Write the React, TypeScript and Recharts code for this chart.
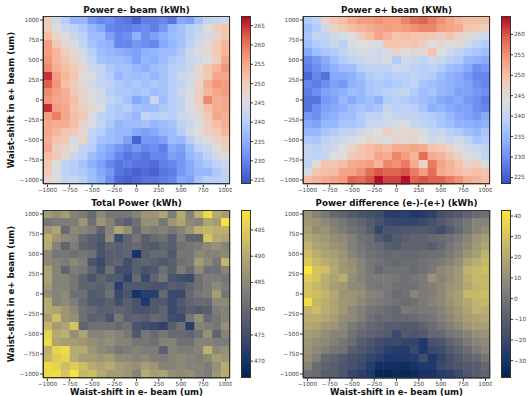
import React from 'react';
import { ScatterChart, Scatter, XAxis, YAxis, BarChart, Bar } from 'recharts';

// waist shifts (um) of the scan grid
const xShifts = [-1000, -900, -800, -700, -600, -500, -400, -300, -200, -100, 0, 100, 200, 300, 400, 500, 600, 700, 800, 900, 1000];
const yShifts = [1000, 900, 800, 700, 600, 500, 400, 300, 200, 100, 0, -100, -200, -300, -400, -500, -600, -700, -800, -900, -1000];
const axisTicks = [-1000, -750, -500, -250, 0, 250, 500, 750, 1000];

// rows go from y = +1000 (top) down to y = -1000
const powerEMinus = [
  [250, 244, 240, 236, 236, 232, 230, 231, 229, 228, 226, 229, 229, 230, 228, 234, 233, 238, 242, 243, 244],
  [249, 246, 243, 241, 239, 236, 234, 230, 229, 229, 230, 231, 229, 232, 236, 238, 240, 242, 246, 249, 251],
  [252, 248, 246, 243, 241, 237, 237, 233, 230, 231, 235, 231, 233, 235, 237, 238, 240, 243, 244, 248, 251],
  [256, 250, 247, 245, 242, 238, 236, 235, 230, 230, 232, 231, 230, 234, 236, 238, 241, 244, 247, 250, 253],
  [256, 253, 249, 247, 244, 240, 237, 236, 235, 234, 233, 235, 236, 237, 237, 239, 243, 245, 247, 250, 253],
  [257, 253, 251, 248, 245, 242, 238, 237, 237, 236, 233, 236, 235, 237, 239, 240, 243, 244, 246, 249, 255],
  [258, 254, 252, 250, 247, 243, 242, 239, 238, 238, 236, 235, 237, 238, 240, 241, 243, 247, 251, 253, 257],
  [265, 256, 253, 251, 246, 245, 242, 240, 236, 238, 237, 238, 236, 238, 240, 243, 244, 247, 250, 255, 255],
  [262, 257, 252, 250, 247, 244, 242, 241, 239, 238, 239, 238, 239, 238, 240, 242, 244, 248, 254, 257, 256],
  [258, 256, 254, 250, 248, 245, 244, 240, 239, 239, 238, 239, 237, 238, 240, 243, 245, 249, 253, 255, 256],
  [257, 255, 254, 252, 248, 246, 244, 242, 240, 238, 234, 236, 243, 237, 240, 242, 245, 249, 258, 254, 255],
  [265, 256, 255, 251, 249, 247, 246, 240, 239, 240, 238, 237, 237, 239, 240, 242, 245, 248, 252, 254, 255],
  [256, 259, 255, 252, 250, 245, 241, 240, 239, 238, 236, 242, 240, 241, 240, 243, 244, 247, 250, 255, 254],
  [255, 254, 254, 252, 248, 245, 242, 239, 236, 237, 237, 238, 236, 237, 238, 241, 243, 245, 249, 252, 254],
  [255, 253, 251, 250, 247, 242, 240, 237, 236, 236, 234, 233, 234, 236, 237, 240, 244, 246, 249, 250, 253],
  [254, 251, 250, 245, 248, 241, 238, 237, 236, 233, 226, 232, 232, 233, 237, 236, 240, 244, 245, 248, 250],
  [255, 249, 248, 246, 242, 240, 236, 234, 232, 230, 232, 230, 231, 229, 234, 233, 237, 241, 243, 246, 249],
  [252, 250, 247, 243, 241, 237, 235, 233, 230, 228, 229, 228, 230, 230, 233, 232, 236, 238, 241, 244, 246],
  [251, 246, 241, 240, 238, 235, 233, 230, 228, 229, 228, 228, 227, 229, 230, 232, 234, 237, 239, 241, 243],
  [250, 245, 241, 240, 239, 237, 234, 232, 228, 227, 226, 227, 226, 228, 229, 232, 234, 236, 236, 239, 242],
  [248, 246, 242, 243, 240, 237, 235, 231, 227, 226, 227, 228, 228, 229, 230, 234, 233, 238, 240, 240, 241],
];

const powerEPlus = [
  [238, 240, 246, 249, 250, 252, 254, 254, 255, 254, 254, 256, 258, 259, 257, 255, 253, 251, 250, 250, 250],
  [236, 238, 242, 246, 248, 250, 251, 252, 253, 254, 253, 254, 255, 256, 256, 254, 253, 252, 249, 248, 247],
  [237, 241, 240, 242, 243, 244, 247, 250, 253, 251, 249, 250, 249, 249, 248, 247, 249, 246, 245, 243, 242],
  [236, 238, 239, 241, 239, 243, 244, 244, 243, 249, 249, 248, 249, 247, 244, 245, 244, 245, 242, 240, 238],
  [233, 236, 237, 238, 240, 242, 243, 243, 242, 243, 246, 244, 245, 245, 249, 244, 242, 240, 238, 237, 236],
  [229, 231, 233, 236, 238, 240, 241, 242, 242, 243, 238, 242, 241, 240, 242, 241, 239, 238, 235, 234, 233],
  [228, 230, 232, 234, 236, 236, 239, 240, 240, 240, 242, 241, 240, 239, 240, 238, 236, 235, 233, 230, 231],
  [226, 229, 227, 233, 233, 234, 236, 238, 239, 238, 239, 239, 240, 239, 238, 236, 234, 233, 231, 229, 229],
  [229, 228, 230, 232, 231, 234, 235, 237, 238, 237, 238, 239, 240, 237, 236, 235, 234, 233, 232, 230, 229],
  [228, 230, 232, 233, 234, 236, 235, 237, 238, 239, 240, 241, 238, 236, 237, 235, 234, 232, 232, 231, 230],
  [227, 227, 231, 232, 235, 233, 235, 236, 234, 238, 239, 238, 237, 236, 235, 233, 232, 233, 231, 230, 228],
  [227, 230, 232, 233, 234, 236, 237, 236, 237, 241, 239, 240, 239, 237, 234, 235, 233, 232, 232, 230, 229],
  [231, 230, 233, 234, 236, 236, 238, 240, 240, 242, 241, 240, 240, 239, 238, 237, 235, 233, 232, 231, 233],
  [233, 232, 235, 235, 237, 237, 238, 241, 241, 242, 243, 244, 241, 240, 239, 237, 236, 234, 234, 233, 234],
  [235, 235, 237, 238, 240, 240, 242, 243, 244, 247, 245, 245, 245, 243, 241, 241, 239, 238, 236, 235, 237],
  [238, 237, 240, 241, 242, 243, 244, 246, 245, 244, 246, 245, 246, 244, 242, 243, 241, 242, 240, 237, 238],
  [241, 239, 241, 242, 244, 246, 249, 250, 251, 250, 252, 252, 253, 252, 249, 248, 246, 244, 242, 241, 240],
  [241, 240, 241, 244, 244, 248, 249, 250, 253, 252, 256, 254, 251, 258, 252, 251, 249, 246, 244, 243, 240],
  [240, 244, 249, 249, 250, 252, 253, 254, 251, 256, 255, 257, 252, 246, 257, 253, 251, 249, 246, 247, 243],
  [243, 249, 250, 250, 253, 253, 255, 258, 260, 259, 259, 260, 257, 254, 258, 252, 251, 250, 249, 250, 249],
  [250, 251, 252, 253, 254, 259, 258, 260, 264, 261, 261, 264, 259, 260, 259, 259, 257, 255, 252, 251, 250],
];

const totalPower = [
  [488, 486, 488, 484, 483, 480, 485, 482, 482, 482, 484, 487, 487, 489, 483, 490, 484, 491, 497, 490, 488],
  [482, 483, 483, 483, 487, 481, 487, 484, 480, 478, 481, 486, 486, 482, 487, 489, 485, 484, 489, 488, 498],
  [487, 489, 480, 485, 484, 483, 479, 484, 489, 486, 480, 484, 483, 484, 482, 484, 487, 491, 492, 491, 491],
  [491, 487, 485, 484, 480, 478, 477, 485, 474, 479, 482, 478, 480, 481, 478, 483, 479, 479, 494, 490, 489],
  [490, 484, 479, 483, 479, 478, 476, 479, 478, 479, 480, 478, 477, 479, 478, 481, 482, 483, 485, 486, 484],
  [485, 482, 482, 481, 482, 481, 476, 478, 478, 479, 470, 478, 480, 480, 477, 482, 482, 485, 484, 484, 485],
  [485, 484, 483, 485, 483, 476, 474, 478, 479, 475, 478, 479, 478, 477, 478, 481, 482, 488, 485, 482, 492],
  [489, 484, 479, 483, 482, 479, 475, 481, 475, 475, 478, 476, 477, 481, 478, 483, 480, 485, 481, 481, 484],
  [489, 484, 484, 482, 479, 476, 479, 477, 477, 473, 480, 474, 479, 482, 476, 475, 474, 481, 483, 483, 482],
  [488, 484, 484, 482, 479, 479, 478, 480, 472, 477, 477, 477, 476, 476, 478, 477, 479, 481, 483, 485, 483],
  [486, 484, 485, 481, 481, 477, 478, 481, 474, 476, 470, 472, 472, 480, 474, 474, 480, 482, 483, 488, 482],
  [490, 484, 485, 483, 480, 477, 477, 478, 475, 478, 476, 471, 477, 477, 474, 477, 479, 480, 480, 485, 485],
  [490, 489, 487, 485, 481, 480, 478, 478, 479, 478, 476, 476, 477, 479, 474, 476, 478, 477, 478, 483, 484],
  [488, 493, 487, 486, 481, 478, 479, 476, 482, 478, 479, 478, 480, 479, 475, 474, 482, 486, 480, 482, 484],
  [492, 488, 489, 494, 479, 481, 481, 481, 480, 481, 476, 475, 474, 473, 478, 481, 472, 484, 483, 482, 486],
  [496, 490, 491, 486, 489, 484, 484, 485, 484, 482, 477, 482, 480, 482, 480, 480, 479, 481, 486, 479, 484],
  [497, 489, 488, 488, 487, 486, 485, 486, 484, 484, 482, 482, 481, 484, 484, 481, 481, 484, 484, 483, 483],
  [491, 496, 497, 490, 490, 487, 485, 484, 482, 483, 484, 483, 483, 478, 484, 483, 483, 484, 491, 485, 486],
  [492, 495, 496, 490, 488, 488, 487, 488, 485, 485, 484, 485, 483, 483, 484, 485, 484, 483, 485, 488, 487],
  [497, 496, 493, 495, 493, 490, 489, 490, 488, 487, 486, 488, 487, 484, 484, 485, 484, 484, 483, 486, 490],
  [497, 497, 494, 498, 492, 493, 490, 488, 488, 487, 484, 490, 488, 489, 486, 485, 486, 484, 483, 487, 490],
];

const powerDiff = [
  [12, 6, 2, -6, -8, -12, -15, -17, -18, -25, -26, -24, -28, -26, -23, -16, -14, -12, -8, -5, -3],
  [14, 12, 8, 4, 0, -4, -8, -12, -16, -20, -21, -22, -22, -20, -16, -12, -8, -4, 0, 6, 6],
  [16, 10, 12, 6, 2, -2, -4, -10, -21, -15, -15, -13, -12, -12, -14, -18, -12, -6, 0, 6, 10],
  [20, 16, 14, 10, 8, 4, -2, -4, -12, -17, -12, -10, -8, -8, -6, -4, -2, 2, 6, 12, 16],
  [24, 18, 16, 12, 10, 4, 0, -4, -6, -10, -12, -8, -8, -8, -10, -6, 0, 4, 8, 14, 18],
  [28, 22, 18, 16, 12, 6, 2, -2, -4, -6, -4, -6, -6, -4, -3, -2, 2, 6, 12, 16, 24],
  [32, 26, 22, 18, 14, 10, 6, 0, -2, -4, -6, -4, -4, -2, 0, 2, 6, 10, 18, 22, 26],
  [42, 30, 28, 20, 14, 12, 6, 0, -6, -2, -2, -2, -4, -2, 2, 8, 10, 14, 24, 26, 28],
  [34, 30, 22, 18, 22, 10, 6, 2, 2, 2, 0, -2, 0, 2, 12, 6, 10, 14, 22, 26, 26],
  [30, 26, 22, 16, 14, 8, 8, 2, 0, 2, -2, -2, -2, 2, 4, 8, 12, 14, 20, 24, 26],
  [30, 28, 24, 20, 12, 12, 10, 6, 4, 0, -4, -2, 6, 2, 4, 8, 14, 16, 26, 26, 28],
  [40, 26, 22, 18, 14, 12, 8, 4, 2, 0, -2, -4, -2, 2, 6, 8, 12, 16, 20, 24, 26],
  [24, 28, 22, 18, 14, 8, 4, 0, -2, -4, -6, 2, 0, 2, 2, 6, 10, 14, 18, 24, 22],
  [22, 22, 20, 16, 10, 8, 4, -2, -6, -4, -6, -6, -4, -2, 0, 4, 8, 12, 16, 18, 20],
  [20, 18, 14, 12, 8, 2, -2, -6, -8, -10, -10, -12, -12, -8, -4, 0, 4, 8, 14, 16, 16],
  [16, 14, 10, 6, 6, -2, -6, -8, -10, -12, -20, -12, -14, -12, -6, -6, 0, 2, 6, 10, 12],
  [14, 10, 8, 4, 0, -4, -10, -14, -18, -20, -20, -22, -22, -28, -16, -14, -8, -4, 2, 6, 8],
  [12, 8, 4, 0, -2, -10, -14, -16, -20, -24, -26, -26, -20, -28, -20, -18, -12, -8, -4, 2, 6],
  [10, 4, -6, -8, -12, -16, -18, -22, -24, -28, -28, -28, -26, -18, -28, -22, -16, -12, -8, -6, 0],
  [6, -4, -8, -10, -14, -16, -20, -26, -32, -32, -32, -33, -30, -28, -28, -20, -16, -14, -12, -10, -6],
  [-2, -4, -10, -10, -14, -22, -24, -28, -36, -37, -34, -35, -34, -30, -30, -26, -24, -20, -14, -10, -8],
];

const eMinusTicks = [225, 230, 235, 240, 245, 250, 255, 260, 265];
const ePlusTicks = [225, 230, 235, 240, 245, 250, 255, 260];
const totalTicks = [470, 475, 480, 485, 490, 495];
const diffTicks = [-30, -20, -10, 0, 10, 20, 30, 40];

const COOLWARM = [
  [59, 76, 192], [98, 130, 234], [141, 176, 254], [184, 208, 249], [221, 221, 221],
  [245, 196, 173], [244, 154, 123], [222, 96, 77], [180, 4, 38],
];
const CIVIDIS = [
  [0, 34, 78], [30, 55, 110], [65, 77, 107], [95, 99, 111], [124, 123, 120],
  [155, 148, 118], [187, 175, 112], [220, 202, 92], [254, 232, 56],
];

const colorAt = (stops, t) => {
  const c = Math.max(0, Math.min(1, t)) * (stops.length - 1);
  const i = Math.min(stops.length - 2, Math.floor(c));
  const f = c - i;
  const rgb = stops[i].map((a, k) => Math.round(a + (stops[i + 1][k] - a) * f));
  return `rgb(${rgb[0]},${rgb[1]},${rgb[2]})`;
};

const fmt = (v) => (v < 0 ? '\u2212' + Math.abs(v) : String(v));

const FONT = 'DejaVu Sans, sans-serif';
const PLOT_W = 187;
const PLOT_H = 168;
const AXIS_W = 43;
const AXIS_H = 16;
const CELL_W = PLOT_W / xShifts.length;
const CELL_H = PLOT_H / yShifts.length;
const tickStyle = { fontSize: 5.7, fill: '#444', fontFamily: FONT };

const Heatmap = ({ rows, stops, vmin, vmax, left, top }) => {
  const data = rows.flatMap((row, i) => row.map((v, j) => ({ x: xShifts[j], y: yShifts[i], v })));
  const cell = (p) => (
    <rect
      x={p.cx - CELL_W / 2}
      y={p.cy - CELL_H / 2}
      width={CELL_W + 0.5}
      height={CELL_H + 0.5}
      fill={colorAt(stops, (p.payload.v - vmin) / (vmax - vmin))}
    />
  );
  return (
    <div style={{ position: 'absolute', left: left - AXIS_W, top }}>
      <ScatterChart width={AXIS_W + PLOT_W + 2} height={PLOT_H + AXIS_H} margin={{ top: 0, right: 2, bottom: 0, left: 0 }}>
        <XAxis type="number" dataKey="x" domain={[-1050, 1050]} ticks={axisTicks} tickFormatter={fmt}
          tick={tickStyle} tickSize={3} tickMargin={1} height={AXIS_H} stroke="#333" interval={0} />
        <YAxis type="number" dataKey="y" domain={[-1050, 1050]} ticks={axisTicks} tickFormatter={fmt}
          tick={tickStyle} tickSize={3} tickMargin={1} width={AXIS_W} stroke="#333" interval={0} />
        <Scatter data={data} shape={cell} isAnimationActive={false} />
      </ScatterChart>
      <div style={{ position: 'absolute', left: AXIS_W, top: 0, width: PLOT_W, height: PLOT_H, border: '1px solid #333', boxSizing: 'border-box', pointerEvents: 'none' }} />
    </div>
  );
};

const Colorbar = ({ id, stops, vmin, vmax, ticks, left, top }) => {
  const gradStops = [];
  for (let k = 0; k <= 16; k++) gradStops.push(<stop key={k} offset={k / 16} stopColor={colorAt(stops, 1 - k / 16)} />);
  return (
    <div style={{ position: 'absolute', left, top }}>
      <BarChart width={40} height={PLOT_H} data={[{ k: 'c', range: [vmin, vmax] }]} margin={{ top: 0, right: 0, bottom: 0, left: 0 }} barCategoryGap={0}>
        <defs>
          <linearGradient id={id} x1="0" y1="0" x2="0" y2="1">{gradStops}</linearGradient>
        </defs>
        <XAxis dataKey="k" hide />
        <YAxis orientation="right" type="number" domain={[vmin, vmax]} ticks={ticks} tickFormatter={fmt}
          tick={tickStyle} tickSize={2} tickMargin={1} width={30} stroke="#333" axisLine={false} allowDataOverflow />
        <Bar dataKey="range" fill={`url(#${id})`} isAnimationActive={false} />
      </BarChart>
      <div style={{ position: 'absolute', left: 0, top: 0, width: 10, height: PLOT_H, border: '1px solid #333', boxSizing: 'border-box', pointerEvents: 'none' }} />
    </div>
  );
};

const Label = ({ text, x, y, rotate, size = 8.75 }) => (
  <div style={{
    position: 'absolute', left: x, top: y, transform: `translate(-50%, -50%)${rotate ? ' rotate(-90deg)' : ''}`,
    whiteSpace: 'nowrap', fontFamily: FONT, fontWeight: 'bold', fontSize: size, color: '#111',
  }}>{text}</div>
);

export default function App() {
  const L1 = 43, L2 = 303, T1 = 16, T2 = 210;
  return (
    <div style={{ position: 'absolute', left: 0, top: 0, width: 529, height: 396, background: '#fff', overflow: 'hidden' }}>
      <Heatmap rows={powerEMinus} stops={COOLWARM} vmin={224} vmax={267.5} left={L1} top={T1} />
      <Heatmap rows={powerEPlus} stops={COOLWARM} vmin={223.4} vmax={264.5} left={L2} top={T1} />
      <Heatmap rows={totalPower} stops={CIVIDIS} vmin={466.8} vmax={498.8} left={L1} top={T2} />
      <Heatmap rows={powerDiff} stops={CIVIDIS} vmin={-38.4} vmax={42.9} left={L2} top={T2} />
      <Colorbar id="ga" stops={COOLWARM} vmin={224} vmax={267.5} ticks={eMinusTicks} left={241} top={T1} />
      <Colorbar id="gb" stops={COOLWARM} vmin={223.4} vmax={264.5} ticks={ePlusTicks} left={501} top={T1} />
      <Colorbar id="gc" stops={CIVIDIS} vmin={466.8} vmax={498.8} ticks={totalTicks} left={241} top={T2} />
      <Colorbar id="gd" stops={CIVIDIS} vmin={-38.4} vmax={42.9} ticks={diffTicks} left={501} top={T2} />
      <Label text="Power e- beam (kWh)" x={136.5} y={10} />
      <Label text="Power e+ beam (KWh)" x={396.5} y={10} />
      <Label text="Total Power (kWh)" x={136.5} y={203} />
      <Label text="Power difference (e-)-(e+) (kWh)" x={396.5} y={203} />
      <Label text="Waist-shift in e+ beam (um)" x={11} y={T1 + PLOT_H / 2} rotate size={8.6} />
      <Label text="Waist-shift in e+ beam (um)" x={11} y={T2 + PLOT_H / 2} rotate size={8.6} />
      <Label text="Waist-shift in e- beam (um)" x={136.5} y={392} size={8.6} />
      <Label text="Waist-shift in e- beam (um)" x={396.5} y={392} size={8.6} />
    </div>
  );
}
